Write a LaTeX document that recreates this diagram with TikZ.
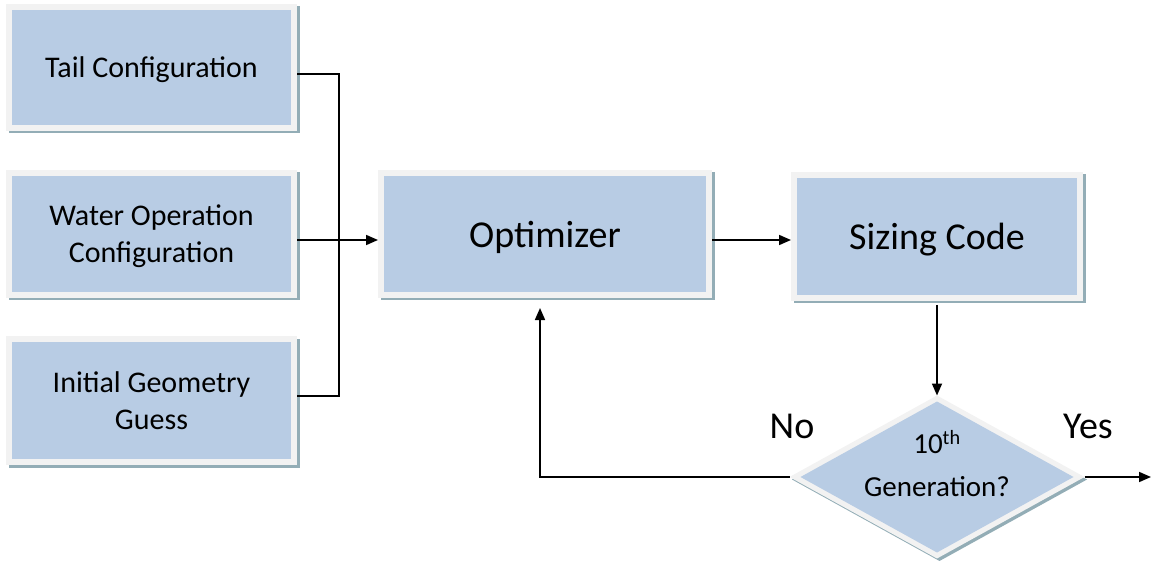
\documentclass[tikz,border=0pt]{standalone}
\usepackage{fontspec}
\setmainfont{Carlito}
\usetikzlibrary{shapes.geometric,shadows,arrows.meta}
\definecolor{boxblue}{HTML}{B8CCE4}
\definecolor{framegrey}{HTML}{F2F2F2}
\definecolor{shadowteal}{HTML}{93ADB6}

\begin{document}
\begin{tikzpicture}[x=1pt,y=-1pt,
  frame shadow/.style={drop shadow={shadow xshift=2.5pt,shadow yshift=-2.5pt,fill=shadowteal,opacity=1}},
  blockbox/.style={rectangle, fill=framegrey, frame shadow, inner sep=0pt, outer sep=0pt,
    align=center, text depth=0pt, font=\fontsize{30}{37}\selectfont,
    path picture={\fill[boxblue]
      ([xshift=6pt,yshift=-6pt]path picture bounding box.north west) rectangle
      ([xshift=-6pt,yshift=6pt]path picture bounding box.south east);}},
  bigtext/.style={font=\fontsize{38}{44}\selectfont},
  decision/.style={diamond, aspect=1.81, fill=framegrey, frame shadow, inner sep=0pt, outer sep=0pt,
    path picture={\fill[boxblue]
      ([xshift=11pt]path picture bounding box.west) --
      ([yshift=-6pt]path picture bounding box.north) --
      ([xshift=-11pt]path picture bounding box.east) --
      ([yshift=6pt]path picture bounding box.south) -- cycle;}},
  conn/.style={line width=1.7pt, black},
  arr/.style={conn, -{Triangle[length=12pt,width=10pt]}}
]
\useasboundingbox (0,0) rectangle (1151,561);

% input blocks
\node[blockbox, minimum width=291pt, minimum height=127pt] (tail)  at (151.5,67.5) {Tail Configuration};
\node[blockbox, minimum width=291pt, minimum height=128pt] (water) at (151.5,234)  {Water Operation\\Configuration};
\node[blockbox, minimum width=291pt, minimum height=129pt] (guess) at (151.5,400.5) {Initial Geometry\\Guess};

% main loop
\node[blockbox, bigtext, minimum width=334pt, minimum height=128pt] (opt)  at (545,234)   {Optimizer};
\node[blockbox, bigtext, minimum width=292pt, minimum height=129pt] (size) at (937,236.5) {Sizing Code};
\node[decision, minimum width=295pt, minimum height=163pt,
      label={[yshift=13pt, align=center, font=\fontsize{29}{43}\selectfont]center:10\textsuperscript{th}\\Generation?}] (gen) at (937,477) {};

% branch labels
\node[bigtext] (nolab)  at (792,426)  {No};
\node[bigtext] (yeslab) at (1088,426) {Yes};

% connectors
\coordinate (join) at (339,240);
\coordinate (out) at (1151,477);
\draw[conn] ([yshift=-6.5pt]tail.east) -| (join);
\draw[conn] ([yshift=4.5pt]guess.east) -| (join);
\draw[arr] ([yshift=-6pt]water.east) -- ([yshift=-6pt]opt.west);
\draw[arr] ([yshift=-6pt]opt.east) -- ([yshift=-3.5pt]size.west);
\draw[arr] ([yshift=-4pt]size.south) -- (gen.north);
\draw[arr] (gen.east) -- (out);
\draw[arr] (gen.west) -| ([xshift=-5pt,yshift=-10pt]opt.south);
\end{tikzpicture}
\end{document}
